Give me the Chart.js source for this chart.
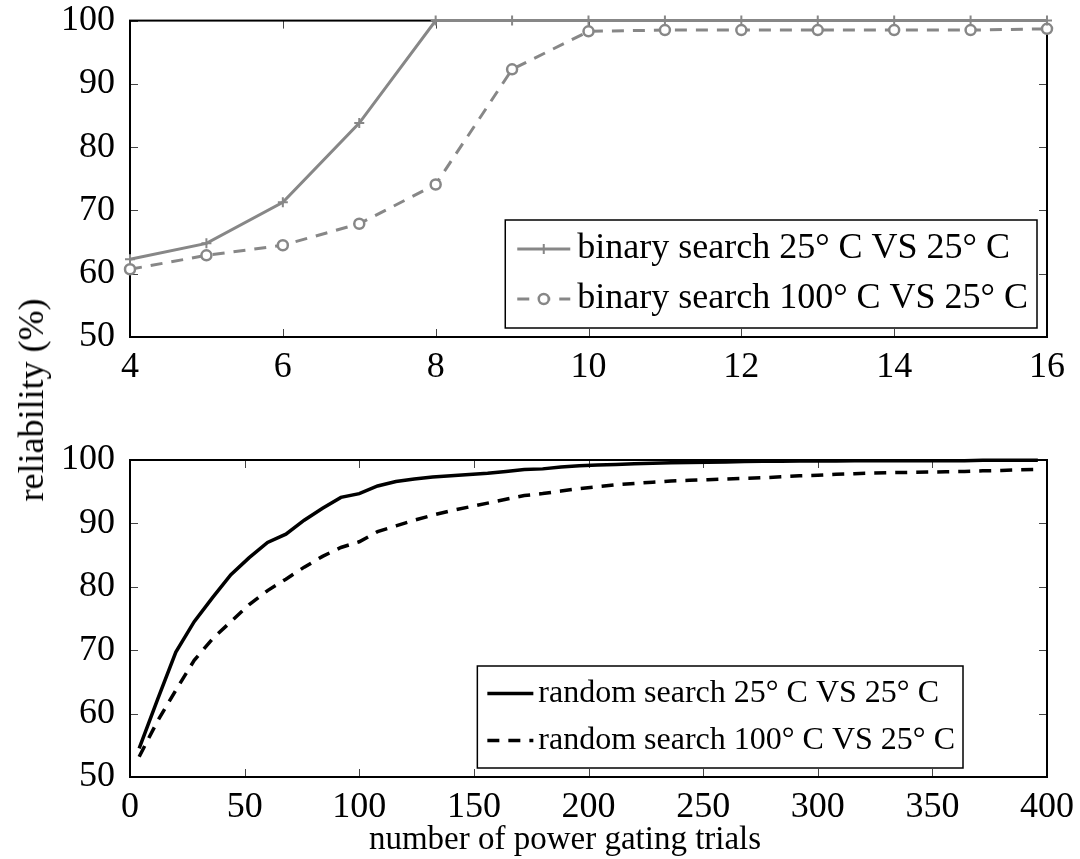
<!DOCTYPE html>
<html>
<head>
<meta charset="utf-8">
<script src="https://cdn.jsdelivr.net/npm/chart.js@4/dist/chart.umd.min.js"></script>
<style>
  body { margin: 0; background: #fff; }
  #wrap { position: relative; width: 1080px; height: 859px; overflow: hidden; }
  #topChart { position: absolute; left: 0; top: -8px; }
  #bottomChart { position: absolute; left: 0; top: 420px; }
  #ylabel {
    position: absolute; left: 31px; top: 400px;
    transform: translate(-50%, -50%) rotate(-90deg);
    font: 36px 'Liberation Serif', serif; white-space: nowrap; color: #000;
  }
  #xlabel {
    position: absolute; left: 565px; top: 838px;
    transform: translate(-50%, -50%);
    font: 33px 'Liberation Serif', serif; white-space: nowrap; color: #000;
  }
</style>
</head>
<body>
<div id="wrap">
  <canvas id="topChart" width="1080" height="428"></canvas>
  <canvas id="bottomChart" width="1080" height="439"></canvas>
  <div id="ylabel">reliability (%)</div>
  <div id="xlabel">number of power gating trials</div>
</div>
<script>
// top panel: binary search
const binaryTrials = [4, 5, 6, 7, 8, 9, 10, 11, 12, 13, 14, 15, 16];
const binary25 = [62.3, 64.8, 71.3, 83.8, 100, 100, 100, 100, 100, 100, 100, 100, 100];
const binary100 = [60.7, 62.9, 64.5, 67.9, 74.1, 92.3, 98.3, 98.5, 98.5, 98.5, 98.5, 98.5, 98.7];

// bottom panel: random search
const randomTrials = [4, 12, 20, 28, 36, 44, 52, 60, 68, 76, 84, 92, 100, 108, 116, 124, 132, 140, 148, 156,
  164, 172, 180, 188, 196, 204, 212, 220, 228, 236, 244, 252, 260, 268, 276, 284, 292, 300, 308, 316,
  324, 332, 340, 348, 356, 364, 372, 380, 388, 396];
const random25 = [54.5, 62.2, 69.7, 74.5, 78.3, 81.9, 84.6, 87.0, 88.3, 90.5,
  92.4, 94.1, 94.7, 95.9, 96.6, 97.0, 97.3, 97.5, 97.7, 97.9,
  98.2, 98.5, 98.6, 98.9, 99.1, 99.2, 99.3, 99.4, 99.5, 99.55,
  99.6, 99.65, 99.7, 99.75, 99.8, 99.8, 99.85, 99.85, 99.85, 99.9,
  99.9, 99.9, 99.9, 99.9, 99.9, 99.9, 99.95, 99.95, 99.95, 99.95];
const random100 = [53.2, 58.8, 63.7, 68.4, 71.8, 74.5, 77.2, 79.4, 81.2, 83.1,
  84.8, 86.2, 87.1, 88.7, 89.6, 90.5, 91.3, 92.0, 92.6, 93.2,
  93.8, 94.4, 94.7, 95.1, 95.5, 95.8, 96.1, 96.3, 96.5, 96.7,
  96.8, 96.9, 97.0, 97.1, 97.2, 97.35, 97.5, 97.6, 97.75, 97.85,
  97.95, 98.0, 98.05, 98.1, 98.15, 98.2, 98.3, 98.35, 98.45, 98.5];

const FONT = "'Liberation Serif', serif";
const GRAY = '#878787';

function toPoints(xs, ys) {
  return xs.map((x, i) => ({ x: x, y: ys[i] }));
}

// matlab style box with inward ticks on all sides
const frameTicks = {
  id: 'frameTicks',
  beforeDatasetsDraw(chart) {
    const { ctx, chartArea: a, scales: { x, y } } = chart;
    ctx.save();
    ctx.strokeStyle = '#444';
    ctx.lineWidth = 1;
    ctx.beginPath();
    x.ticks.forEach(t => {
      const px = Math.round(x.getPixelForValue(t.value)) + 0.5;
      ctx.moveTo(px, a.bottom); ctx.lineTo(px, a.bottom - 8);
      ctx.moveTo(px, a.top); ctx.lineTo(px, a.top + 8);
    });
    y.ticks.forEach(t => {
      const py = Math.round(y.getPixelForValue(t.value)) + 0.5;
      ctx.moveTo(a.left, py); ctx.lineTo(a.left + 8, py);
      ctx.moveTo(a.right, py); ctx.lineTo(a.right - 8, py);
    });
    ctx.stroke();
    ctx.strokeStyle = '#000';
    ctx.lineWidth = 2;
    ctx.strokeRect(a.left, a.top, a.width, a.height);
    ctx.restore();
  }
};

// legend box drawn inside the plot area
const boxLegend = {
  id: 'boxLegend',
  afterDatasetsDraw(chart, args, o) {
    const { ctx, chartArea: a } = chart;
    const sets = chart.data.datasets;
    ctx.save();
    ctx.font = o.fontSize + 'px ' + FONT;
    const textW = Math.max(...sets.map(d => ctx.measureText(d.label).width));
    const w = o.padL + o.lineLen + o.gap + textW + o.padR;
    const h = sets.length * o.rowH + 8;
    const left = a.right - o.right - w;
    const top = a.bottom - o.bottom - h;
    ctx.fillStyle = '#fff';
    ctx.fillRect(left, top, w, h);
    ctx.strokeStyle = '#000';
    ctx.lineWidth = 1.5;
    ctx.strokeRect(left, top, w, h);
    sets.forEach((d, i) => {
      const cy = top + 4 + o.rowH * (i + 0.5);
      const x0 = left + o.padL;
      ctx.strokeStyle = d.borderColor;
      ctx.lineWidth = d.borderWidth;
      ctx.setLineDash(d.borderDash || []);
      ctx.beginPath();
      ctx.moveTo(x0, cy);
      ctx.lineTo(x0 + o.lineLen, cy);
      ctx.stroke();
      ctx.setLineDash([]);
      if (d.pointRadius > 0) {
        ctx.strokeStyle = d.pointBorderColor;
        ctx.fillStyle = d.pointBackgroundColor;
        ctx.lineWidth = d.pointBorderWidth;
        Chart.helpers.drawPoint(ctx, { pointStyle: d.pointStyle, radius: d.pointRadius, rotation: 0, borderWidth: d.pointBorderWidth }, x0 + o.lineLen / 2, cy);
      }
      ctx.fillStyle = '#000';
      ctx.textBaseline = 'middle';
      ctx.textAlign = 'left';
      ctx.fillText(d.label, x0 + o.lineLen + o.gap, cy);
    });
    ctx.restore();
  }
};

function makeOptions(xMin, xMax, xStep, axisH, padTop, legendOpts) {
  return {
    responsive: false,
    animation: false,
    layout: { padding: { top: padTop, right: 33, left: 0, bottom: 0 } },
    plugins: {
      legend: { display: false },
      tooltip: { enabled: false },
      boxLegend: legendOpts
    },
    scales: {
      x: {
        type: 'linear',
        min: xMin, max: xMax,
        grid: { display: false },
        border: { display: false },
        ticks: { stepSize: xStep, padding: 1, color: '#000', font: { family: FONT, size: 36 }, maxRotation: 0 },
        afterFit(s) { s.height = axisH; }
      },
      y: {
        min: 50, max: 100,
        grid: { display: false },
        border: { display: false },
        ticks: { stepSize: 10, padding: 7, color: '#000', font: { family: FONT, size: 36 } },
        afterFit(s) { s.width = 130; }
      }
    }
  };
}

new Chart(document.getElementById('topChart'), {
  type: 'line',
  data: {
    datasets: [{
      label: 'binary search 25\u00b0 C VS 25\u00b0 C',
      data: toPoints(binaryTrials, binary25),
      borderColor: GRAY,
      borderWidth: 3,
      pointStyle: 'cross',
      pointRadius: 5,
      pointBorderWidth: 2,
      pointBorderColor: GRAY,
      pointBackgroundColor: GRAY,
      tension: 0,
      clip: false
    }, {
      label: 'binary search 100\u00b0 C VS 25\u00b0 C',
      data: toPoints(binaryTrials, binary100),
      borderColor: GRAY,
      borderWidth: 3,
      borderDash: [12, 9],
      pointStyle: 'circle',
      pointRadius: 5,
      pointBorderWidth: 2.5,
      pointBorderColor: GRAY,
      pointBackgroundColor: '#fff',
      tension: 0,
      clip: false
    }]
  },
  options: makeOptions(4, 16, 2, 83, 20, { fontSize: 36, right: 10, bottom: 9, padL: 12, lineLen: 53, gap: 7, padR: 9, rowH: 50 }),
  plugins: [frameTicks, boxLegend]
});

new Chart(document.getElementById('bottomChart'), {
  type: 'line',
  data: {
    datasets: [{
      label: 'random search 25\u00b0 C VS 25\u00b0 C',
      data: toPoints(randomTrials, random25),
      borderColor: '#000',
      borderWidth: 3.5,
      pointRadius: 0,
      tension: 0,
      clip: false
    }, {
      label: 'random search 100\u00b0 C VS 25\u00b0 C',
      data: toPoints(randomTrials, random100),
      borderColor: '#000',
      borderWidth: 3.5,
      borderDash: [12, 9],
      pointRadius: 0,
      tension: 0,
      clip: false
    }]
  },
  options: makeOptions(0, 400, 50, 82, 40, { fontSize: 32, right: 84, bottom: 9, padL: 10, lineLen: 46, gap: 5, padR: 8, rowH: 47 }),
  plugins: [frameTicks, boxLegend]
});
</script>
</body>
</html>
